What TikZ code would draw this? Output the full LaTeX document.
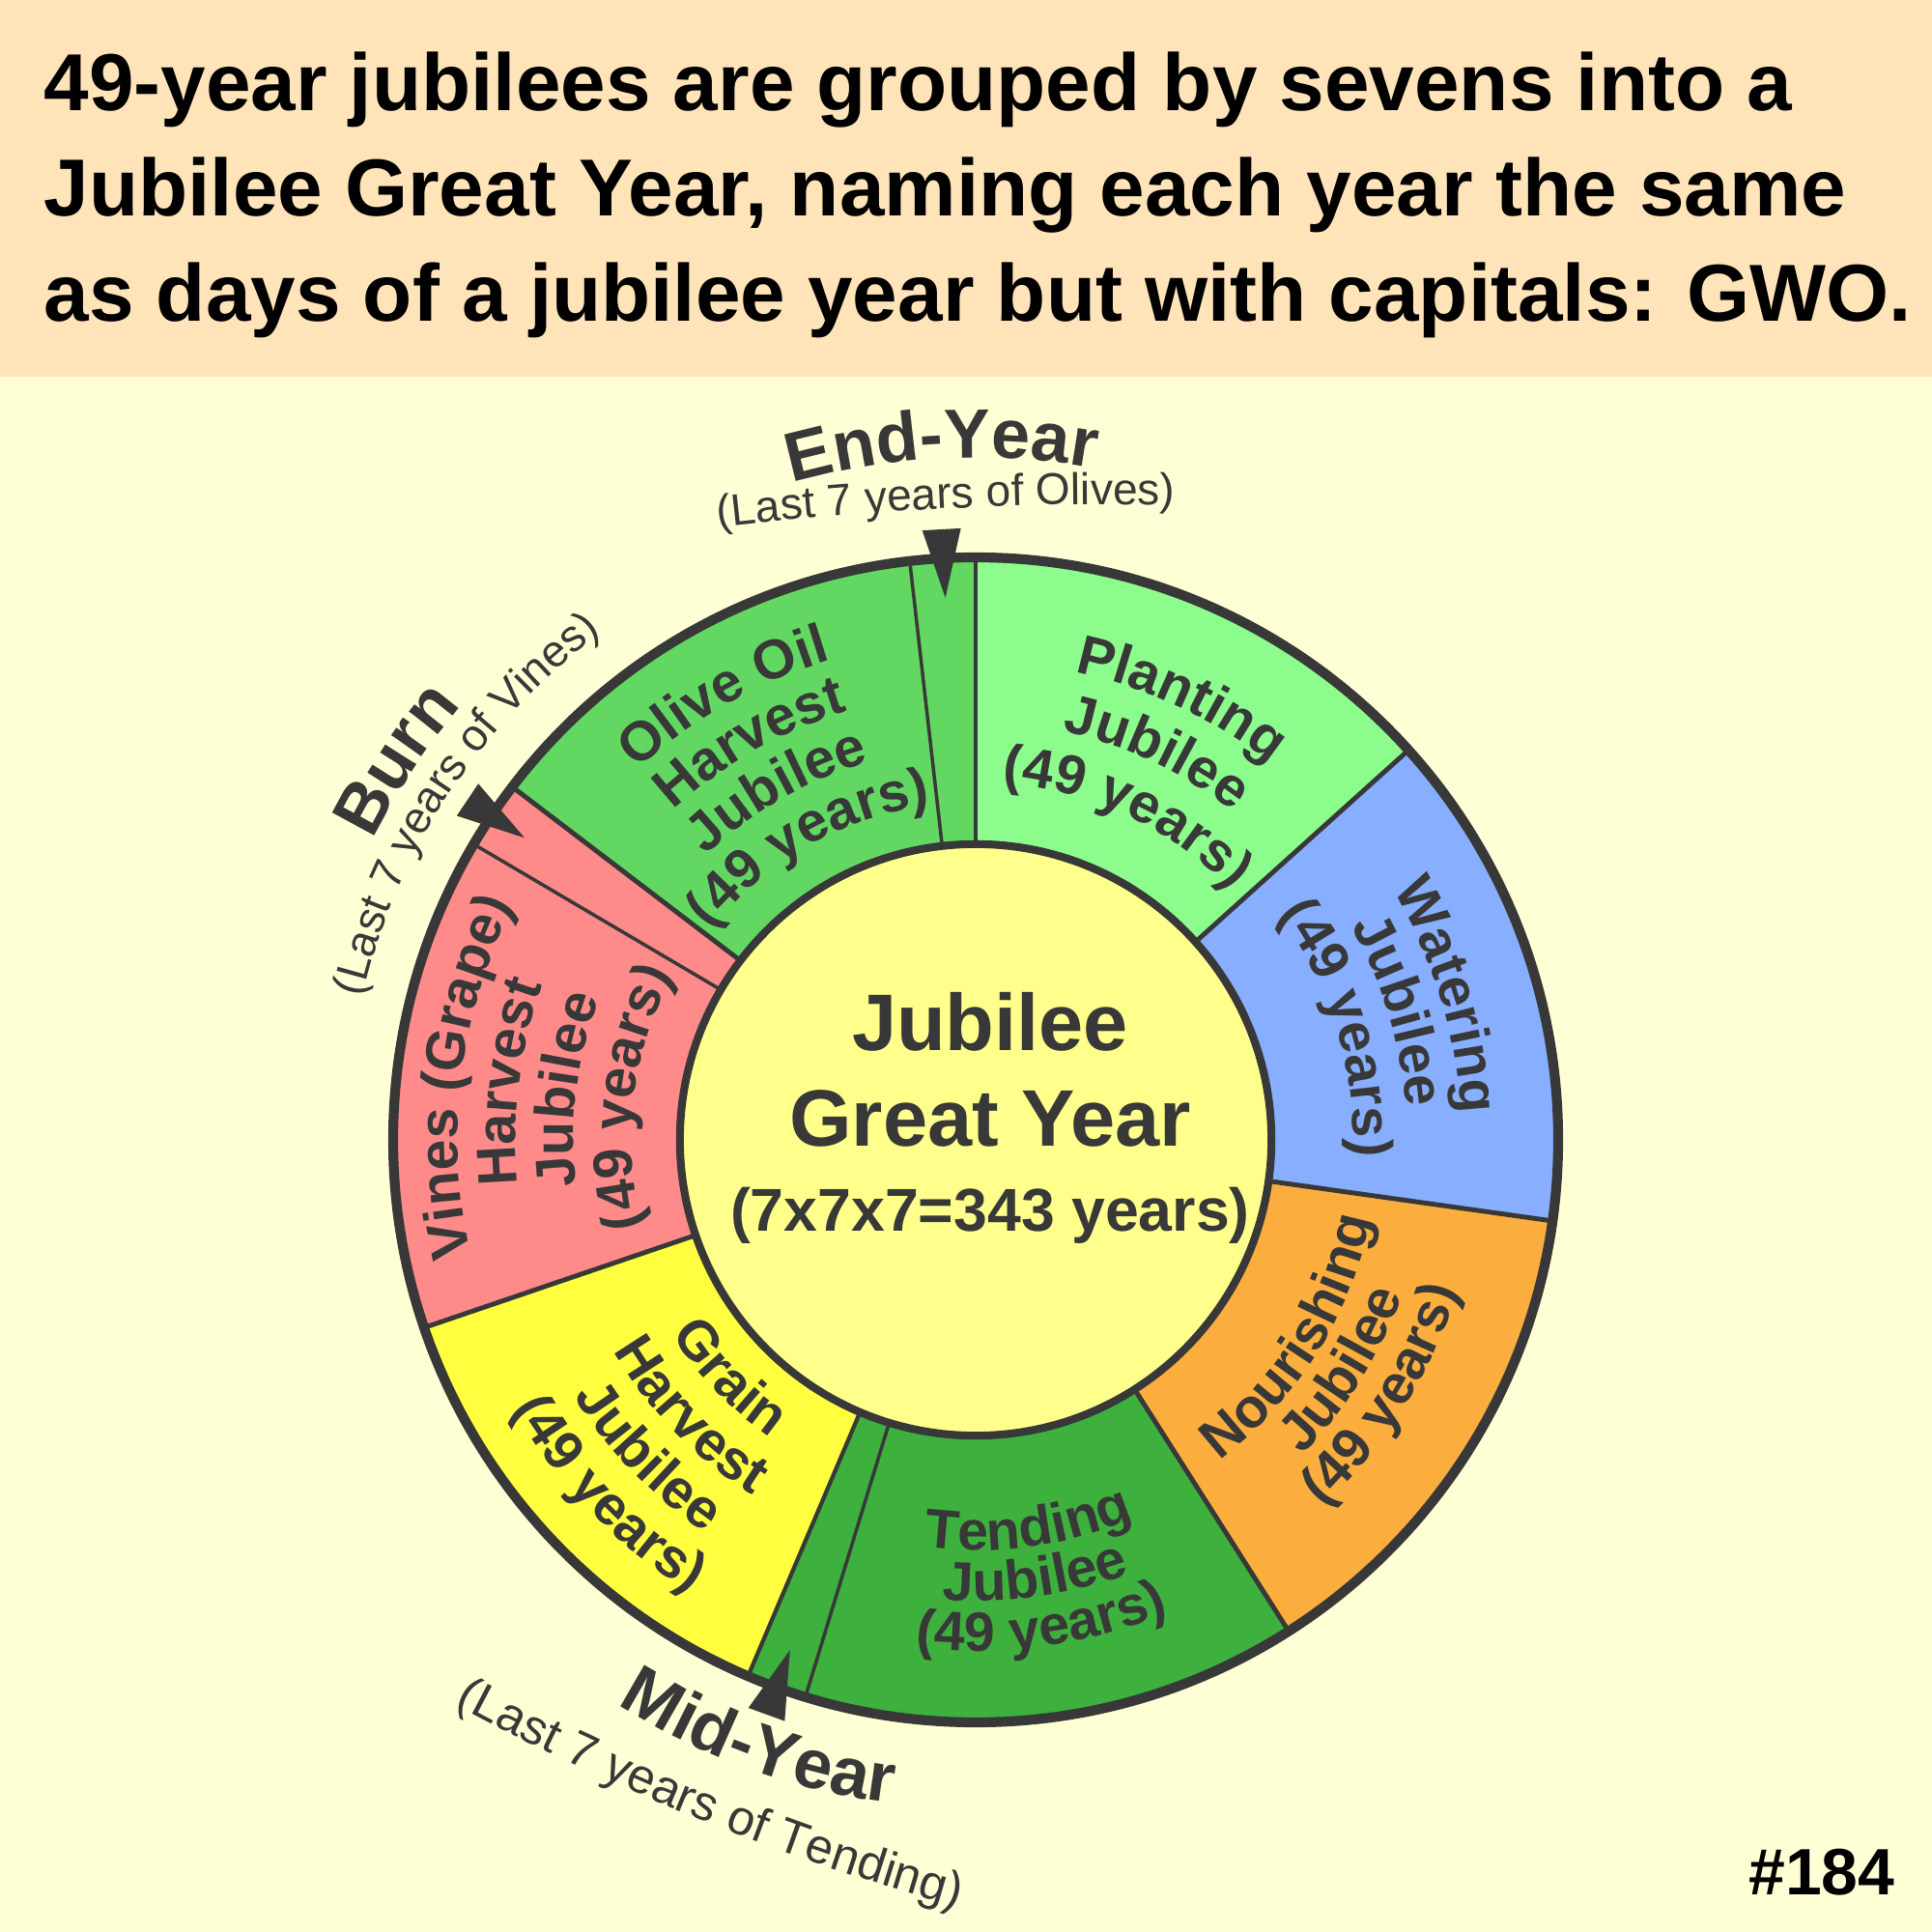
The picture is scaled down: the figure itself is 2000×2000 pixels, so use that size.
\documentclass[tikz,border=0pt]{standalone}
\usepackage{fontspec}
\setmainfont{Liberation Sans}
\usetikzlibrary{decorations.text}
\definecolor{bgc}{HTML}{FFFFD5}
\definecolor{band}{HTML}{FFE4BA}
\definecolor{ink}{HTML}{383838}
\definecolor{plant}{HTML}{8CFC8C}
\definecolor{water}{HTML}{88AEFF}
\definecolor{nour}{HTML}{FBAE3E}
\definecolor{tend}{HTML}{3DB03D}
\definecolor{grain}{HTML}{FFFF3F}
\definecolor{vines}{HTML}{FF8A8A}
\definecolor{olive}{HTML}{62D862}
\definecolor{core}{HTML}{FFFF8C}
\newcommand\titlefont{\fontsize{23.8}{28}\selectfont\bfseries}
\newcommand\ringfont{\fontsize{16.3}{18}\selectfont\bfseries}
\newcommand\bigfont{\fontsize{20.5}{22}\selectfont\bfseries}
\newcommand\subfont{\fontsize{13.1}{15}\selectfont}
\newcommand\subbigfont{\fontsize{14.4}{16}\selectfont}
\newcommand\corefont{\fontsize{23.6}{26}\selectfont\bfseries}
\newcommand\coresmall{\fontsize{17.8}{20}\selectfont\bfseries}
% upper: text runs clockwise, tops outward
\newcommand\arcU[4]{\path[decorate,decoration={text along path,text align=center,text color=ink,text={|#3|#4}}] ([shift={(1010,820)}]{#1+70}:#2) arc[start angle={#1+70},end angle={#1-70},radius=#2];}
% lower: text runs counterclockwise, tops inward
\newcommand\arcL[4]{\path[decorate,decoration={text along path,text align=center,text color=ink,text={|#3|#4}}] ([shift={(1010,820)}]{#1-70}:#2) arc[start angle={#1-70},end angle={#1+70},radius=#2];}
\newcommand\sector[3]{\fill[#3] (1010,820) -- ([shift={(1010,820)}]#1:603) arc[start angle=#1,end angle=#2,radius=603] -- cycle;}
\newcommand\divider[2]{\draw[ink,line width=#2] ([shift={(1010,820)}]#1:306) -- ([shift={(1010,820)}]#1:603);}
\newcommand\marker[1]{\fill[ink,shift={(1010,820)},rotate=#1] (633,20) -- (633,-20) -- (562,0) -- cycle;}
\tikzset{titletext/.style={inner sep=0pt,font=\titlefont,text=black,anchor=base west},
coretext/.style={inner sep=0pt,text=ink,anchor=base}}
\begin{document}
\begin{tikzpicture}[x=0.01cm,y=0.01cm]
\useasboundingbox (0,0) rectangle (2000,2000);
\fill[bgc] (0,0) rectangle (2000,2000);
\fill[band] (0,1610) rectangle (2000,2000);
\node[titletext] (t1) at (45,1885) {49-year jubilees are grouped by sevens into a};
\node[titletext] (t2) at (45,1776) {Jubilee Great Year, naming each year the same};
\node[titletext] (t3) at (45,1667) {as days of a jubilee year but with capitals: GWO.};
% ring sectors
\sector{42}{90}{plant}
\sector{90}{142.7}{olive}
\sector{142.7}{198.8}{vines}
\sector{198.8}{247}{grain}
\sector{247}{302.5}{tend}
\sector{302.5}{352}{nour}
\sector{352}{402}{water}
\divider{90}{1.4pt}
\divider{142.7}{1.4pt}
\divider{198.8}{1.4pt}
\divider{247}{1.2pt}
\divider{302.5}{1.4pt}
\divider{352}{1.4pt}
\divider{42}{1.4pt}
\divider{96.5}{1pt}
\divider{149.5}{1pt}
\divider{253}{1pt}
\draw[ink,line width=2.9pt] (1010,820) circle[radius=603];
\node[circle,fill=core,draw=ink,line width=2.3pt,minimum size=6.12cm,inner sep=0pt] (core) at (1010,820) {};
% markers
\marker{93.2}
\marker{146.2}
\marker{-110}
% centre text
\node[coretext,font=\corefont] (c1) at (1025,912) {Jubilee};
\node[coretext,font=\corefont] (c2) at (1025,813) {Great Year};
\node[coretext,font=\coresmall] (c3) at (1025,725) {(7x7x7=343 years)};
% ring labels
\arcU{65}{495}{\ringfont}{Planting}
\arcU{65}{432}{\ringfont}{Jubilee}
\arcU{65}{370}{\ringfont}{(49 years)}
\arcU{17}{503}{\ringfont}{Watering}
\arcU{17}{447}{\ringfont}{Jubilee}
\arcU{17}{391}{\ringfont}{(49 years)}
\arcU{119.6}{519}{\ringfont}{Olive Oil}
\arcU{119.6}{463}{\ringfont}{Harvest}
\arcU{119.6}{406}{\ringfont}{Jubilee}
\arcU{119.6}{350}{\ringfont}{(49 years)}
\arcU{173}{536}{\ringfont}{Vines (Grape)}
\arcU{173}{476}{\ringfont}{Harvest}
\arcU{173}{416}{\ringfont}{Jubilee}
\arcU{173}{356}{\ringfont}{(49 years)}
\arcL{-32}{417}{\ringfont}{Nourishing}
\arcL{-32}{470}{\ringfont}{Jubilee}
\arcL{-32}{523}{\ringfont}{(49 years)}
\arcL{-82.25}{425}{\ringfont}{Tending}
\arcL{-82.25}{477}{\ringfont}{Jubilee}
\arcL{-82.25}{529}{\ringfont}{(49 years)}
\arcL{-136}{374}{\ringfont}{Grain}
\arcL{-136}{434}{\ringfont}{Harvest}
\arcL{-136}{494}{\ringfont}{Jubilee}
\arcL{-136}{554}{\ringfont}{(49 years)}
% outer labels
\arcU{92.8}{706}{\bigfont}{End-Year}
\path[decorate,decoration={text along path,text align=center,text color=ink,text={|\subfont|(Last 7 years of Olives)}}] ([shift={(1150,-2022)}]{92.8+10}:3500) arc[start angle={92.8+10},end angle={92.8-10},radius=3500];
\arcU{146.7}{697}{\bigfont}{Burn}
\arcU{146.7}{652}{\subfont}{(Last 7 years of Vines)}
\arcL{-109.8}{692}{\bigfont}{Mid-Year}
\path[decorate,decoration={text along path,text align=center,text color=ink,text={|\subbigfont|(Last 7 years of Tending)}}] ([shift={(1662,2434)}]{-112-10}:2500) arc[start angle={-112-10},end angle={-112+10},radius=2500];
\node[inner sep=0pt,font=\fontsize{19.3}{22}\selectfont\bfseries,text=black,anchor=base east] (num) at (1962,38) {\#184};
\end{tikzpicture}
\end{document}
